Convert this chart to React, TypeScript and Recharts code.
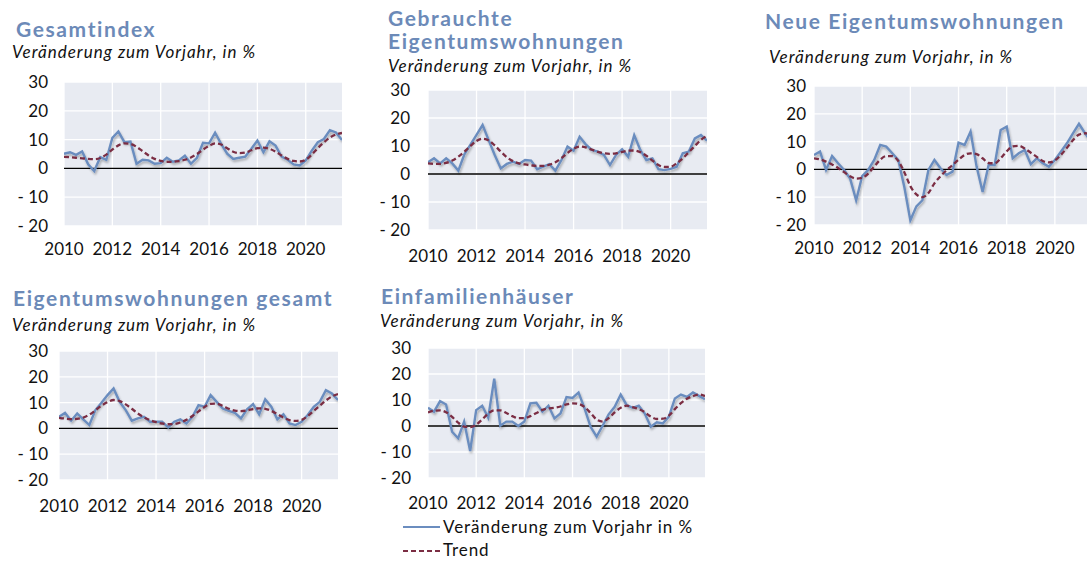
import React from "react";
import { LineChart, Line, XAxis, YAxis, CartesianGrid, ReferenceLine } from "recharts";

const QUARTERS: string[] = [
  "2010Q1","2010Q2","2010Q3","2010Q4","2011Q1","2011Q2","2011Q3","2011Q4",
  "2012Q1","2012Q2","2012Q3","2012Q4","2013Q1","2013Q2","2013Q3","2013Q4",
  "2014Q1","2014Q2","2014Q3","2014Q4","2015Q1","2015Q2","2015Q3","2015Q4",
  "2016Q1","2016Q2","2016Q3","2016Q4","2017Q1","2017Q2","2017Q3","2017Q4",
  "2018Q1","2018Q2","2018Q3","2018Q4","2019Q1","2019Q2","2019Q3","2019Q4",
  "2020Q1","2020Q2","2020Q3","2020Q4","2021Q1","2021Q2","2021Q3",
];
const X_TICKS = [2010, 2012, 2014, 2016, 2018, 2020];
const Y_TICKS = [-20, -10, 0, 10, 20, 30];

const SERIES_NAME = "Veränderung zum Vorjahr in %";
const TREND_NAME = "Trend";
const SUBTITLE = "Veränderung zum Vorjahr, in %";

const gesamtYoY = [5.1,5.6,4.7,5.9,1.4,-0.9,3.9,3.0,10.6,12.8,9.1,9.3,1.6,3.0,2.8,1.6,1.8,3.7,2.3,2.8,4.4,1.6,3.7,8.9,8.7,12.4,8.5,5.1,3.3,3.7,4.1,6.8,9.7,5.6,9.4,7.9,4.1,3.0,1.4,1.0,2.8,6.2,9.1,10.2,13.3,12.5,9.9];
const gesamtTrend = [4.0,3.9,3.7,3.5,3.3,3.2,3.6,4.8,6.5,8.0,8.7,8.5,7.5,6.0,4.5,3.3,2.6,2.3,2.3,2.5,3.0,3.8,5.0,6.5,7.8,8.7,8.3,7.0,5.8,5.3,5.5,6.3,7.0,7.2,6.8,5.8,4.5,3.3,2.6,2.4,3.0,4.8,7.0,9.0,10.7,11.8,12.3];

const gebrauchtYoY = [4.2,5.6,3.8,5.6,3.8,1.2,7.0,10.5,14.0,17.5,12.1,6.8,2.0,3.6,4.4,3.6,5.0,4.8,1.7,2.6,3.5,1.2,5.0,9.8,8.3,13.3,10.6,8.6,8.0,6.8,3.2,6.8,8.8,6.2,13.9,8.6,5.0,5.6,1.7,1.4,1.8,2.6,7.4,8.0,12.7,13.9,11.9];
const gebrauchtTrend = [3.8,3.6,3.6,4.0,4.8,6.2,8.0,10.0,11.8,12.6,12.0,10.2,8.0,6.0,4.6,3.8,3.4,3.1,2.9,2.9,3.3,4.2,5.7,7.5,9.0,9.8,9.5,8.7,7.9,7.4,7.2,7.4,7.9,8.3,8.4,7.8,6.5,4.8,3.2,2.5,2.6,3.8,5.6,7.8,10.0,12.2,13.6];

const neuYoY = [5.2,6.4,-0.2,4.8,2.2,-0.2,-3.3,-11.1,-2.4,-0.2,3.4,8.8,8.2,5.8,3.4,-6.3,-18.3,-13.3,-11.1,-0.2,3.4,0.4,-2.0,-0.8,9.6,8.8,13.6,1.0,-8.1,1.6,1.6,14.2,15.4,4.0,5.8,7.0,1.9,4.0,2.2,1.0,3.4,6.4,9.4,13.0,16.4,13.0,10.1];
const neuTrend = [4.0,3.6,2.8,1.8,0.5,-1.0,-2.5,-3.3,-3.0,-1.5,1.0,3.5,4.8,4.8,3.0,-1.0,-6.0,-9.0,-10.0,-8.5,-5.0,-2.5,-0.3,1.5,3.5,5.2,5.8,5.5,4.0,2.3,2.2,4.0,6.5,8.3,8.5,7.5,6.0,4.5,3.0,2.5,3.2,5.2,7.8,10.5,12.5,13.0,12.8];

const etwYoY = [4.5,6.0,3.0,5.8,3.5,1.3,7.1,9.9,12.9,15.5,10.3,7.1,3.0,3.9,4.5,2.6,2.6,2.6,0.4,2.6,3.5,1.9,4.5,9.0,8.4,12.9,10.3,7.7,6.8,6.0,3.9,7.4,9.4,5.5,11.3,8.4,3.5,5.5,1.9,1.3,2.6,5.2,8.4,10.3,14.8,13.5,11.0];
const etwTrend = [4.1,3.8,3.6,3.7,4.2,5.3,7.0,8.8,10.2,11.0,10.6,9.3,7.6,5.8,4.3,3.2,2.4,1.9,1.6,1.7,2.3,3.3,4.8,6.6,8.3,9.5,9.6,8.7,7.6,6.9,6.7,7.0,7.5,7.8,7.6,6.8,5.5,4.2,3.2,2.9,3.3,4.8,6.8,8.8,10.8,12.4,13.3];

const efhYoY = [7.0,5.5,9.6,8.3,-2.2,-4.7,1.7,-9.6,6.1,7.8,3.2,18.2,0.1,1.7,1.7,0.0,1.7,8.7,8.9,5.5,7.8,2.9,4.8,11.1,10.8,12.9,6.8,-0.3,-4.1,0.1,4.5,7.4,12.1,8.0,7.0,7.8,4.8,-0.3,1.4,1.0,3.6,10.6,12.1,11.2,12.9,11.6,10.3];
const efhTrend = [5.2,5.9,6.0,5.3,3.5,1.3,-0.2,-0.4,0.5,2.5,4.8,6.0,6.0,5.0,3.8,3.0,3.0,3.8,5.0,6.2,6.8,7.0,7.5,8.3,8.7,8.5,7.3,5.0,2.5,1.7,3.0,5.2,7.0,7.8,7.3,6.5,5.3,3.6,2.7,2.8,4.0,6.5,8.8,10.5,11.5,12.1,11.5];

const BLUE = "#6B8DBF";
const TREND = "#7B2D43";
const TITLE = "#6C8AB8";
const FONT = "Lato, 'Open Sans', sans-serif";

function toX(q: string) {
  return Number(q.slice(0, 4)) + (Number(q.slice(5)) - 1) / 4;
}
function buildRows(yoy: number[], trend: number[]) {
  return QUARTERS.map((q, i) => ({ x: toX(q), yoy: yoy[i], trend: trend[i] }));
}

type PanelProps = {
  titleLines: string[];
  titleX: number;
  titleBaselines: number[];
  subX: number;
  subBaseline: number;
  plotX: number;
  plotY: number;
  plotW: number;
  plotH: number;
  yGap: number;
  xGap: number;
  yoy: number[];
  trend: number[];
  id: string;
};

const Y_AXIS_W = 60;
const X_AXIS_H = 40;
const TOP_PAD = 14;

function Panel(p: PanelProps) {
  const rows = buildRows(p.yoy, p.trend);
  return (
    <>
      <svg style={{ position: "absolute", left: 0, top: 0, overflow: "visible" }} width={1} height={1}>
        {p.titleLines.map((t, i) => (
          <text key={i} x={p.titleX} y={p.titleBaselines[i]} fill={TITLE} fontFamily={FONT} fontWeight={700} fontSize={21} letterSpacing={1.6}>
            {t}
          </text>
        ))}
        <text x={p.subX} y={p.subBaseline} fill="#111" fontFamily={FONT} fontStyle="italic" fontSize={17} letterSpacing={1}>
          {SUBTITLE}
        </text>
      </svg>
      <div style={{ position: "absolute", left: p.plotX - Y_AXIS_W, top: p.plotY - TOP_PAD }}>
        <LineChart
          width={p.plotW + Y_AXIS_W}
          height={p.plotH + X_AXIS_H + TOP_PAD}
          data={rows}
          margin={{ top: TOP_PAD, right: 0, bottom: 0, left: 0 }}
        >
          <defs>
            <filter id={"sh" + p.id} x="-10%" y="-10%" width="120%" height="130%">
              <feDropShadow dx="1" dy="2" stdDeviation="1" floodColor="#000" floodOpacity="0.28" />
            </filter>
          </defs>
          <CartesianGrid stroke="#FFFFFF" strokeWidth={1.3} fill="#E8EBF2" verticalValues={X_TICKS} />
          <XAxis
            dataKey="x"
            type="number"
            domain={[2010, 2021.5]}
            ticks={X_TICKS}
            allowDataOverflow
            axisLine={false}
            tickLine={false}
            tickSize={0}
            tickMargin={p.xGap}
            height={X_AXIS_H}
            tick={{ fill: "#111", fontSize: 17, fontFamily: FONT }}
          />
          <YAxis
            domain={[-20, 30]}
            ticks={Y_TICKS}
            width={Y_AXIS_W}
            axisLine={false}
            tickLine={false}
            tickSize={0}
            tickMargin={p.yGap}
            interval={0}
            tickFormatter={(v: number) => (v < 0 ? `- ${Math.abs(v)}` : `${v}`)}
            tick={{ fill: "#111", fontSize: 17, fontFamily: FONT }}
          />
          <ReferenceLine y={0} stroke="#000" strokeWidth={1.3} />
          <Line
            dataKey="yoy"
            name={SERIES_NAME}
            type="linear"
            stroke={BLUE}
            strokeWidth={2.4}
            dot={false}
            isAnimationActive={false}
            filter={`url(#sh${p.id})`}
          />
          <Line
            dataKey="trend"
            name={TREND_NAME}
            type="monotone"
            stroke={TREND}
            strokeWidth={2.3}
            strokeDasharray="5 3"
            dot={false}
            isAnimationActive={false}
          />
        </LineChart>
      </div>
    </>
  );
}

export default function App() {
  return (
    <div
      style={{
        position: "fixed",
        left: 0,
        top: 0,
        width: 1087,
        height: 562,
        overflow: "hidden",
        background: "#fff",
      }}
    >
      <Panel id="a" titleLines={["Gesamtindex"]} titleX={16} titleBaselines={[37]} subX={12} subBaseline={58}
        plotX={64} plotY={82} plotW={278} plotH={144} yGap={16} xGap={17} yoy={gesamtYoY} trend={gesamtTrend} />
      <Panel id="b" titleLines={["Gebrauchte", "Eigentumswohnungen"]} titleX={388} titleBaselines={[26, 49]} subX={388} subBaseline={72}
        plotX={428} plotY={90} plotW={279} plotH={140} yGap={18} xGap={20} yoy={gebrauchtYoY} trend={gebrauchtTrend} />
      <Panel id="c" titleLines={["Neue Eigentumswohnungen"]} titleX={765} titleBaselines={[29]} subX={769} subBaseline={63}
        plotX={814} plotY={86} plotW={277} plotH={139} yGap={8} xGap={17} yoy={neuYoY} trend={neuTrend} />
      <Panel id="d" titleLines={["Eigentumswohnungen gesamt"]} titleX={13} titleBaselines={[306]} subX={12} subBaseline={331}
        plotX={59} plotY={351} plotW={279} plotH={129} yGap={11} xGap={20} yoy={etwYoY} trend={etwTrend} />
      <Panel id="e" titleLines={["Einfamilienhäuser"]} titleX={381} titleBaselines={[304]} subX={380} subBaseline={327}
        plotX={428} plotY={348} plotW={277} plotH={130} yGap={17} xGap={19} yoy={efhYoY} trend={efhTrend} />
      <svg style={{ position: "absolute", left: 0, top: 0 }} width={1087} height={562}>
        <line x1={403} x2={440} y1={527} y2={527} stroke={BLUE} strokeWidth={2} />
        <text x={443} y={533} fontFamily={FONT} fontSize={17} letterSpacing={0.9} fill="#111">{SERIES_NAME}</text>
        <line x1={403} x2={440} y1={551} y2={551} stroke={TREND} strokeWidth={2} strokeDasharray="5 3" />
        <text x={443} y={556} fontFamily={FONT} fontSize={17} letterSpacing={0.9} fill="#111">{TREND_NAME}</text>
      </svg>
    </div>
  );
}
